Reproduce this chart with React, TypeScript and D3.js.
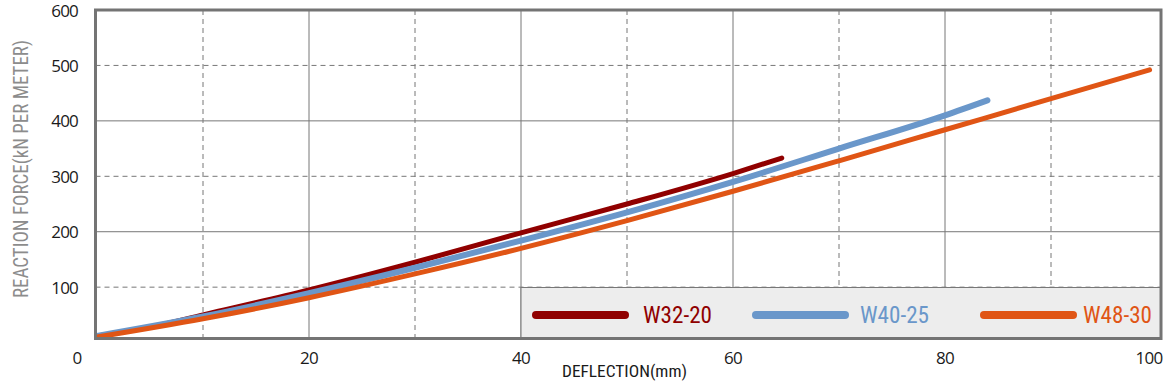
import React from "react";
import * as d3 from "d3";

const xTicks = [0, 20, 40, 60, 80, 100];
const yTicks = [100, 200, 300, 400, 500, 600];
const xGridSolid = [20, 40, 60, 80];
const xGridDashed = [10, 30, 50, 70, 90];
const yGridSolid = [200, 400];
const yGridDashed = [100, 300, 500];

const seriesNames = ["W32-20", "W40-25", "W48-30"];
const seriesColors = ["#900000", "#6a97ca", "#e05515"];

const w32x = [0, 5, 10, 20, 30, 40, 50, 60, 64.6];
const w32y = [12, 28, 50, 95, 145, 198, 250, 305, 333];
const w40x = [0, 10, 20, 30, 40, 50, 60, 70, 80, 84];
const w40y = [12, 47, 89, 135, 184, 235, 290, 350, 410, 437];
const w48x = [0, 10, 20, 30, 40, 50, 60, 70, 80, 90, 99.3];
const w48y = [10, 43, 81, 124, 170, 220, 273, 328, 384, 440, 492];

const FONT = "'Liberation Sans Narrow', 'Roboto Condensed', 'Arial Narrow', 'Open Sans', sans-serif";
const TICKFONT = "'Open Sans', 'Noto Sans', sans-serif";

export default function App() {
  const W = 1172, H = 383;
  const x = d3.scaleLinear().domain([0, 100]).range([97, 1157]);
  const y = d3.scaleLinear().domain([0, 600]).range([342.6, 10]);
  const frame = { l: 95.5, t: 10, r: 1161, b: 338.5 };
  const line = d3.line<[number, number]>().x(d => x(d[0])).y(d => y(d[1])).curve(d3.curveMonotoneX);
  const series = [
    { name: seriesNames[0], color: seriesColors[0], xs: w32x, ys: w32y, w: 5 },
    { name: seriesNames[1], color: seriesColors[1], xs: w40x, ys: w40y, w: 6 },
    { name: seriesNames[2], color: seriesColors[2], xs: w48x, ys: w48y, w: 5 },
  ];
  const legendX = [532, 752, 980];
  const legendTextX = [643, 860, 1083];
  const grid = "#777";
  return (
    <svg width={W} height={H} style={{ position: "absolute", left: 0, top: 0 }}>
      <rect x={0} y={0} width={W} height={H} fill="#fff" />
      {xGridSolid.map(v => (
        <line key={"xs" + v} x1={x(v)} x2={x(v)} y1={frame.t} y2={frame.b} stroke={grid} strokeWidth={1} />
      ))}
      {xGridDashed.map(v => (
        <line key={"xd" + v} x1={x(v)} x2={x(v)} y1={frame.t} y2={frame.b} stroke={grid} strokeWidth={1} strokeDasharray="5,4" />
      ))}
      {yGridSolid.map(v => (
        <line key={"ys" + v} x1={frame.l} x2={frame.r} y1={y(v)} y2={y(v)} stroke={grid} strokeWidth={1} />
      ))}
      {yGridDashed.map(v => (
        <line key={"yd" + v} x1={frame.l} x2={frame.r} y1={y(v)} y2={y(v)} stroke={grid} strokeWidth={1} strokeDasharray="5,4" />
      ))}
      <rect x={521} y={287.5} width={frame.r - 521} height={frame.b - 287.5} fill="#ededed" stroke={grid} strokeWidth={1} />
      {series.map(s => (
        <path key={s.name} d={line(s.xs.map((v, i) => [v, s.ys[i]] as [number, number])) || ""}
          fill="none" stroke={s.color} strokeWidth={s.w} strokeLinecap="round" strokeLinejoin="round" />
      ))}
      {series.map((s, i) => (
        <g key={"lg" + s.name}>
          <line x1={legendX[i] + 4} x2={legendX[i] + 93} y1={315} y2={315} stroke={s.color} strokeWidth={8} strokeLinecap="round" />
          <text x={legendTextX[i]} y={323.3} fill={s.color} fontFamily={FONT} fontSize={23} textLength={69} lengthAdjust="spacingAndGlyphs">{s.name}</text>
        </g>
      ))}
      <rect x={frame.l} y={frame.t} width={frame.r - frame.l} height={frame.b - frame.t} fill="none" stroke="#747474" strokeWidth={3} />
      {yTicks.map(v => (
        <text key={"yt" + v} x={78} y={y(v) + 6.5} textAnchor="end" fontFamily={TICKFONT} fontSize={17} fill="#1a1a1a" letterSpacing={-0.8}>{v}</text>
      ))}
      {xTicks.map(v => (
        <text key={"xt" + v} x={v === 0 ? 77 : v === 100 ? 1149 : x(v)} y={364} textAnchor="middle" fontFamily={TICKFONT} fontSize={17} fill="#1a1a1a" letterSpacing={-0.8}>{v}</text>
      ))}
      <text x={562} y={377.3} fontFamily={FONT} fontSize={17} fill="#1a1a1a" textLength={125} lengthAdjust="spacingAndGlyphs">DEFLECTION(mm)</text>
      <text transform="translate(27.5,169) rotate(-90)" textAnchor="middle" fontFamily={FONT} fontSize={20} fill="#8c8c8c" textLength={258} lengthAdjust="spacingAndGlyphs">REACTION FORCE(kN PER METER)</text>
    </svg>
  );
}
